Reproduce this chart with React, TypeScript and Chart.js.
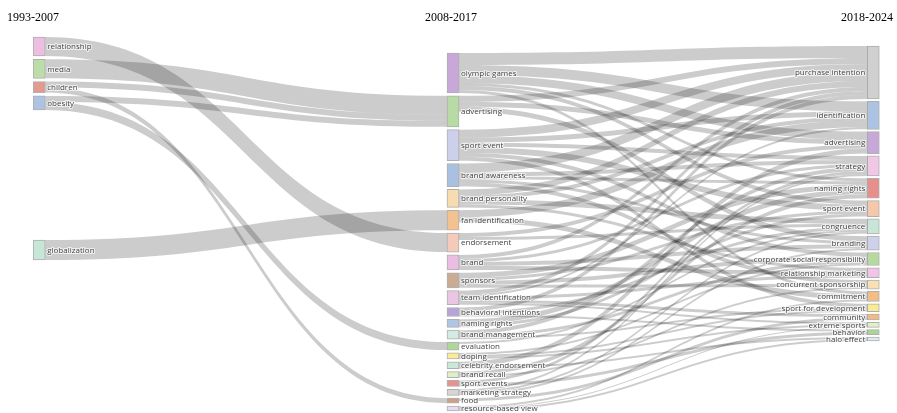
import { useEffect, useRef } from 'react';
import { Chart, registerables } from 'chart.js';

Chart.register(...registerables);

// ---------- DATA ----------
const periods = ['1993-2007', '2008-2017', '2018-2024'];

const col0Nodes = ['relationship', 'media', 'children', 'obesity', 'globalization'];
const col1Nodes = [
  'olympic games', 'advertising', 'sport event', 'brand awareness', 'brand personality',
  'fan identification', 'endorsement', 'brand', 'sponsors', 'team identification',
  'behavioral intentions', 'naming rights', 'brand management', 'evaluation', 'doping',
  'celebrity endorsement', 'brand recall', 'sport events', 'marketing strategy', 'food',
  'resource-based view',
];
const col2Nodes = [
  'purchase intention', 'identification', 'advertising', 'strategy', 'naming rights',
  'sport event', 'congruence', 'branding', 'corporate social responsibility',
  'relationship marketing', 'concurrent sponsorship', 'commitment', 'sport for development',
  'community', 'extreme sports', 'behavior', 'halo effect',
];

// links period 1 -> period 2 : [source, target, value]
const stage1Links: [string, string, number][] = [
  ['relationship', 'endorsement', 19],
  ['media', 'advertising', 19],
  ['children', 'advertising', 6],
  ['children', 'food', 5],
  ['obesity', 'advertising', 6],
  ['obesity', 'evaluation', 8],
  ['globalization', 'fan identification', 20],
];

// links period 2 -> period 3
const stage2Links: [string, string, number][] = [
  ['olympic games', 'purchase intention', 12], ['olympic games', 'identification', 10],
  ['olympic games', 'advertising', 8], ['olympic games', 'sport event', 4],
  ['olympic games', 'commitment', 3], ['olympic games', 'naming rights', 3],
  ['advertising', 'purchase intention', 6], ['advertising', 'advertising', 5],
  ['advertising', 'branding', 5],
  ['sport event', 'purchase intention', 8], ['sport event', 'sport event', 6],
  ['sport event', 'identification', 5], ['sport event', 'strategy', 4],
  ['sport event', 'sport for development', 4], ['sport event', 'corporate social responsibility', 4],
  ['brand awareness', 'purchase intention', 9], ['brand awareness', 'branding', 3],
  ['brand awareness', 'strategy', 4], ['brand awareness', 'naming rights', 3],
  ['brand awareness', 'concurrent sponsorship', 4],
  ['brand personality', 'purchase intention', 6], ['brand personality', 'congruence', 5],
  ['brand personality', 'identification', 4], ['brand personality', 'relationship marketing', 3],
  ['fan identification', 'identification', 7], ['fan identification', 'commitment', 5],
  ['endorsement', 'advertising', 4], ['endorsement', 'congruence', 3],
  ['brand', 'purchase intention', 4], ['brand', 'branding', 4],
  ['brand', 'relationship marketing', 4], ['brand', 'strategy', 3],
  ['sponsors', 'naming rights', 5], ['sponsors', 'corporate social responsibility', 4],
  ['sponsors', 'concurrent sponsorship', 3], ['sponsors', 'sport event', 3],
  ['team identification', 'identification', 2], ['team identification', 'purchase intention', 4],
  ['team identification', 'relationship marketing', 3], ['team identification', 'community', 3],
  ['team identification', 'extreme sports', 2],
  ['behavioral intentions', 'purchase intention', 4], ['behavioral intentions', 'behavior', 2],
  ['behavioral intentions', 'congruence', 3],
  ['naming rights', 'naming rights', 5], ['naming rights', 'sport event', 3],
  ['brand management', 'strategy', 4], ['brand management', 'corporate social responsibility', 3],
  ['brand management', 'sport for development', 2],
  ['evaluation', 'congruence', 2],
  ['doping', 'corporate social responsibility', 2], ['doping', 'sport for development', 2],
  ['doping', 'extreme sports', 2],
  ['celebrity endorsement', 'advertising', 5], ['celebrity endorsement', 'halo effect', 2],
  ['brand recall', 'naming rights', 4], ['brand recall', 'concurrent sponsorship', 2],
  ['sport events', 'strategy', 3], ['sport events', 'behavior', 3],
  ['marketing strategy', 'strategy', 2], ['marketing strategy', 'congruence', 2],
  ['marketing strategy', 'branding', 2],
  ['food', 'community', 3],
  ['resource-based view', 'commitment', 2], ['resource-based view', 'halo effect', 2],
  ['resource-based view', 'extreme sports', 1],
];

// ---------- STYLE ----------
const col0Colors = ['#ecbfe2', '#bcdca8', '#e39a92', '#aec3e2', '#c6e6d8'];
const col1Colors = [
  '#c8a8d8', '#b8daa4', '#cdd0ea', '#aac0e0', '#f6dcae', '#f4c28f', '#f3cbb8', '#ecbde2',
  '#ccab94', '#eac6e3', '#b7a3d9', '#aec5e4', '#d2ece4', '#b0d79a', '#f9ec92', '#c9e8d7',
  '#def0c6', '#e7928e', '#d6d6d6', '#c9a183', '#e4dcf0',
];
const col2Colors = [
  '#d0d0d0', '#adc3e3', '#c8a8d8', '#f1c7e6', '#e68f8b', '#f5c8ab', '#c8e6d7', '#cdd1ec',
  '#b6d9a0', '#f1c4e7', '#f8dfb4', '#f3bd88', '#f8eb96', '#f2bb84', '#dff1c5', '#abd596',
  '#e0eaf6',
];

const NODE_W = 12;
const colX = [0, 0.9922, 2];
const colTop = [37, 53, 46];
const colPad = [3.3, 2.85, 2.31];
const extraGap: Record<string, number> = { globalization: 126.8 };
const LINK_COLOR = 'rgba(0,0,0,0.2)';
const LABEL_FONT = '8px "Open Sans"';
const LABEL_COLOR = '#444';

// ---------- LAYOUT (from values) ----------
const cols = [col0Nodes, col1Nodes, col2Nodes];
const colColors = [col0Colors, col1Colors, col2Colors];
const stages = [stage1Links, stage2Links];

function buildLayout() {
  const inSum = cols.map((c) => c.map(() => 0));
  const outSum = cols.map((c) => c.map(() => 0));
  stages.forEach((links, s) =>
    links.forEach(([a, b, v]) => {
      outSum[s][cols[s].indexOf(a)] += v;
      inSum[s + 1][cols[s + 1].indexOf(b)] += v;
    })
  );
  const top: number[][] = [];
  const bot: number[][] = [];
  cols.forEach((c, ci) => {
    let y = colTop[ci];
    top.push([]);
    bot.push([]);
    c.forEach((name, i) => {
      if (i > 0) y += colPad[ci];
      if (ci === 0 && extraGap[name]) y += extraGap[name];
      const h = Math.max(inSum[ci][i], outSum[ci][i]);
      top[ci].push(y);
      bot[ci].push(y + h);
      y += h;
    });
  });
  const paths: { s: number; sy0: number; sy1: number; ty0: number; ty1: number }[] = [];
  stages.forEach((links, s) => {
    const L = links.map(([a, b, v]) => ({ si: cols[s].indexOf(a), ti: cols[s + 1].indexOf(b), v, sy: 0, ty: 0 }));
    cols[s].forEach((_, i) => {
      let y = top[s][i];
      L.filter((l) => l.si === i)
        .sort((p, q) => top[s + 1][p.ti] - top[s + 1][q.ti])
        .forEach((l) => { l.sy = y; y += l.v; });
    });
    cols[s + 1].forEach((_, i) => {
      let y = top[s + 1][i];
      L.filter((l) => l.ti === i)
        .sort((p, q) => top[s][p.si] - top[s][q.si])
        .forEach((l) => { l.ty = y; y += l.v; });
    });
    L.forEach((l) => paths.push({ s, sy0: l.sy, sy1: l.sy + l.v, ty0: l.ty, ty1: l.ty + l.v }));
  });
  return { top, bot, paths };
}

export default function App() {
  const ref = useRef<HTMLCanvasElement | null>(null);
  useEffect(() => {
    if (!ref.current) return;
    const { top, bot, paths } = buildLayout();
    const data: { x: number; y: [number, number] }[] = [];
    const colors: string[] = [];
    const labels: { ci: number; name: string; t: number; b: number }[] = [];
    cols.forEach((c, ci) =>
      c.forEach((name, i) => {
        data.push({ x: colX[ci], y: [top[ci][i], bot[ci][i]] });
        colors.push(colColors[ci][i]);
        labels.push({ ci, name, t: top[ci][i], b: bot[ci][i] });
      })
    );

    const sankeyPlugin = {
      id: 'sankeyExtras',
      beforeDatasetsDraw(chart: any) {
        const { ctx, scales } = chart;
        ctx.save();
        ctx.fillStyle = LINK_COLOR;
        paths.forEach((p) => {
          const x0 = scales.x.getPixelForValue(colX[p.s]) + NODE_W / 2;
          const x1 = scales.x.getPixelForValue(colX[p.s + 1]) - NODE_W / 2;
          const xm = (x0 + x1) / 2;
          const a0 = scales.y.getPixelForValue(p.sy0);
          const a1 = scales.y.getPixelForValue(p.sy1);
          const b0 = scales.y.getPixelForValue(p.ty0);
          const b1 = scales.y.getPixelForValue(p.ty1);
          ctx.beginPath();
          ctx.moveTo(x0, a0);
          ctx.bezierCurveTo(xm, a0, xm, b0, x1, b0);
          ctx.lineTo(x1, b1);
          ctx.bezierCurveTo(xm, b1, xm, a1, x0, a1);
          ctx.closePath();
          ctx.fill();
        });
        ctx.restore();
      },
      afterDatasetsDraw(chart: any) {
        const { ctx, scales } = chart;
        ctx.save();
        ctx.font = LABEL_FONT;
        ctx.textBaseline = 'middle';
        ctx.lineJoin = 'round';
        labels.forEach((l) => {
          const yc = (scales.y.getPixelForValue(l.t) + scales.y.getPixelForValue(l.b)) / 2;
          const xc = scales.x.getPixelForValue(colX[l.ci]);
          let x: number;
          if (l.ci === 2) {
            ctx.textAlign = 'right';
            x = xc - NODE_W / 2 - 2;
          } else {
            ctx.textAlign = 'left';
            x = xc + NODE_W / 2 + 2;
          }
          ctx.strokeStyle = 'rgba(255,255,255,0.7)';
          ctx.lineWidth = 2;
          ctx.strokeText(l.name, x, yc + 0.5);
          ctx.fillStyle = LABEL_COLOR;
          ctx.fillText(l.name, x, yc + 0.5);
        });
        ctx.font = '12px "Liberation Serif"';
        ctx.fillStyle = '#000';
        ctx.textBaseline = 'alphabetic';
        ctx.textAlign = 'left';
        ctx.fillText(periods[0], 7, 21);
        ctx.textAlign = 'center';
        ctx.fillText(periods[1], scales.x.getPixelForValue(colX[1]) - 2, 21);
        ctx.textAlign = 'right';
        ctx.fillText(periods[2], chart.width - 4, 21);
        ctx.restore();
      },
    };

    const chart = new Chart(ref.current, {
      type: 'bar',
      data: {
        datasets: [
          {
            data: data as any,
            backgroundColor: colors,
            borderColor: 'rgba(110,110,110,0.55)',
            borderWidth: 1,
            borderSkipped: false,
            barThickness: NODE_W,
          } as any,
        ],
      },
      options: {
        responsive: false,
        animation: false,
        events: [],
        layout: { padding: 0 },
        plugins: { legend: { display: false }, tooltip: { enabled: false } },
        scales: {
          x: { type: 'linear', min: -0.09399, max: 2.05683, offset: false, display: false },
          y: { type: 'linear', min: 0, max: 413, reverse: true, display: false },
        },
      },
      plugins: [sankeyPlugin],
    });
    return () => chart.destroy();
  }, []);

  return (
    <div style={{ position: 'absolute', left: 0, top: 0, width: 897, height: 413, background: '#fff' }}>
      <canvas ref={ref} width={897} height={413} style={{ display: 'block' }} />
    </div>
  );
}
